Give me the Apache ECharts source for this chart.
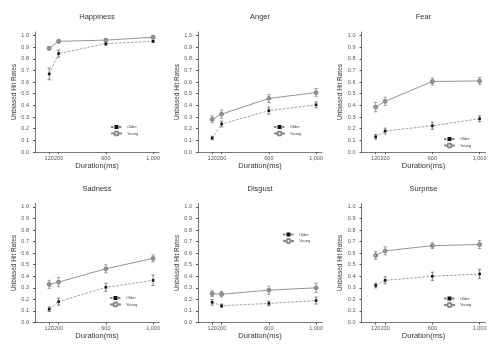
<!DOCTYPE html>
<html>
<head>
<meta charset="utf-8">
<script src="https://cdn.jsdelivr.net/npm/echarts@6/dist/echarts.min.js"></script>
<style>
  html, body { margin: 0; padding: 0; background: #fff; }
  #chart { width: 500px; height: 353px; }
</style>
</head>
<body>
<div id="chart"></div>
<script>
// durations on the x axis and y tick values
const durations = [120, 200, 600, 1000];
const yTicks = [0, 0.1, 0.2, 0.3, 0.4, 0.5, 0.6, 0.7, 0.8, 0.9, 1.0];
const emotions = ['Happiness', 'Anger', 'Fear', 'Sadness', 'Disgust', 'Surprise'];

// mean hit rates and error (+/-) per group
const happinessOlder = [0.67, 0.845, 0.93, 0.95];
const happinessOlderErr = [0.05, 0.03, 0.015, 0.01];
const happinessYoung = [0.89, 0.95, 0.96, 0.985];
const happinessYoungErr = [0.015, 0.015, 0.01, 0.01];

const angerOlder = [0.12, 0.24, 0.355, 0.405];
const angerOlderErr = [0.015, 0.025, 0.03, 0.025];
const angerYoung = [0.28, 0.325, 0.46, 0.51];
const angerYoungErr = [0.03, 0.035, 0.035, 0.035];

const fearOlder = [0.13, 0.18, 0.225, 0.285];
const fearOlderErr = [0.02, 0.025, 0.03, 0.025];
const fearYoung = [0.385, 0.435, 0.605, 0.61];
const fearYoungErr = [0.04, 0.035, 0.03, 0.03];

const sadnessOlder = [0.115, 0.18, 0.305, 0.365];
const sadnessOlderErr = [0.02, 0.03, 0.035, 0.045];
const sadnessYoung = [0.33, 0.35, 0.465, 0.555];
const sadnessYoungErr = [0.035, 0.04, 0.035, 0.03];

const disgustOlder = [0.175, 0.145, 0.165, 0.19];
const disgustOlderErr = [0.025, 0.015, 0.02, 0.03];
const disgustYoung = [0.25, 0.245, 0.28, 0.30];
const disgustYoungErr = [0.025, 0.025, 0.035, 0.04];

const surpriseOlder = [0.32, 0.365, 0.40, 0.42];
const surpriseOlderErr = [0.02, 0.03, 0.035, 0.04];
const surpriseYoung = [0.58, 0.62, 0.665, 0.675];
const surpriseYoungErr = [0.035, 0.035, 0.025, 0.035];

const panelData = [
  [happinessOlder, happinessOlderErr, happinessYoung, happinessYoungErr],
  [angerOlder, angerOlderErr, angerYoung, angerYoungErr],
  [fearOlder, fearOlderErr, fearYoung, fearYoungErr],
  [sadnessOlder, sadnessOlderErr, sadnessYoung, sadnessYoungErr],
  [disgustOlder, disgustOlderErr, disgustYoung, disgustYoungErr],
  [surpriseOlder, surpriseOlderErr, surpriseYoung, surpriseYoungErr]
];

// layout: grid left/top/height and legend spot for each panel
const gridLefts = [35, 198, 361.5];
const rowTops = [32, 203.5];
const rowHeights = [120, 119];
const titleTops = [13, 185];
const legendSpots = [[110, 125], [273, 125], [443, 137], [109, 296], [282, 232.5], [443, 296.5]];

const textFont = 'Liberation Sans, Arial, sans-serif';
const axisColor = '#555';

const errorBars = (color) => (params, api) => {
  const x = api.value(0);
  const top = api.coord([x, api.value(2)]);
  const bot = api.coord([x, api.value(1)]);
  const cap = 1.6;
  const style = { stroke: color, lineWidth: 0.7 };
  return {
    type: 'group',
    children: [
      { type: 'line', shape: { x1: top[0], y1: top[1], x2: bot[0], y2: bot[1] }, style },
      { type: 'line', shape: { x1: top[0] - cap, y1: top[1], x2: top[0] + cap, y2: top[1] }, style },
      { type: 'line', shape: { x1: bot[0] - cap, y1: bot[1], x2: bot[0] + cap, y2: bot[1] }, style }
    ]
  };
};

const grid = [], xAxis = [], yAxis = [], title = [], legend = [], series = [];

emotions.forEach((name, i) => {
  const col = i % 3, row = Math.floor(i / 3);
  const left = gridLefts[col];
  grid.push({ left: left, top: rowTops[row], width: 124, height: rowHeights[row] });

  title.push({
    text: name,
    left: left + 62,
    top: titleTops[row],
    padding: 0,
    textAlign: 'center',
    textStyle: { fontSize: 7.5, fontWeight: 'normal', color: '#333', fontFamily: textFont }
  });

  xAxis.push({
    type: 'value', gridIndex: i, min: 0, max: 1050,
    name: 'Duration(ms)', nameLocation: 'middle', nameGap: 8,
    nameTextStyle: { fontSize: 7.5, color: '#333', fontFamily: textFont },
    axisLine: { lineStyle: { color: axisColor, width: 0.8 } },
    axisTick: { show: true, length: 2, customValues: durations, lineStyle: { color: axisColor } },
    axisLabel: { customValues: durations, fontSize: 5.5, color: '#555', margin: 3, fontFamily: textFont },
    splitLine: { show: false }
  });

  yAxis.push({
    type: 'value', gridIndex: i, min: 0, max: 1.03,
    name: 'Unbiased Hit Rates', nameLocation: 'middle', nameGap: 16,
    nameTextStyle: { fontSize: 6.5, color: '#333', fontFamily: textFont },
    axisLine: { show: true, lineStyle: { color: axisColor, width: 0.8 } },
    axisTick: { show: true, length: 2, customValues: yTicks, lineStyle: { color: axisColor } },
    axisLabel: {
      customValues: yTicks, fontSize: 5.5, color: '#555', margin: 6, fontFamily: textFont,
      formatter: v => v.toFixed(1)
    },
    splitLine: { show: false }
  });

  legend.push({
    orient: 'vertical',
    left: legendSpots[i][0], top: legendSpots[i][1],
    padding: 0, itemWidth: 11, itemHeight: 5, itemGap: 1.5,
    textStyle: { fontSize: 4, color: '#444', fontFamily: textFont },
    data: ['Older', 'Young']
  });

  const [older, olderErr, young, youngErr] = panelData[i];

  series.push({
    type: 'custom', name: 'olderErr' + i, xAxisIndex: i, yAxisIndex: i, z: 1,
    renderItem: errorBars('#555'),
    data: durations.map((d, k) => [d, older[k] - olderErr[k], older[k] + olderErr[k]])
  });
  series.push({
    type: 'custom', name: 'youngErr' + i, xAxisIndex: i, yAxisIndex: i, z: 1,
    renderItem: errorBars('#777'),
    data: durations.map((d, k) => [d, young[k] - youngErr[k], young[k] + youngErr[k]])
  });
  series.push({
    type: 'line', name: 'Older', xAxisIndex: i, yAxisIndex: i, z: 3,
    symbol: 'rect', symbolSize: 2.6,
    itemStyle: { color: '#111' },
    lineStyle: { color: '#888', width: 0.8, type: [2.5, 1.5] },
    data: durations.map((d, k) => [d, older[k]])
  });
  series.push({
    type: 'line', name: 'Young', xAxisIndex: i, yAxisIndex: i, z: 3,
    symbol: 'emptyCircle', symbolSize: 2.8,
    itemStyle: { color: '#888', borderWidth: 0.6 },
    lineStyle: { color: '#888', width: 0.9 },
    data: durations.map((d, k) => [d, young[k]])
  });
});

const chart = echarts.init(document.getElementById('chart'), null, { renderer: 'canvas' });
chart.setOption({
  animation: false,
  backgroundColor: '#fff',
  title, grid, xAxis, yAxis, legend, series
});
</script>
</body>
</html>
